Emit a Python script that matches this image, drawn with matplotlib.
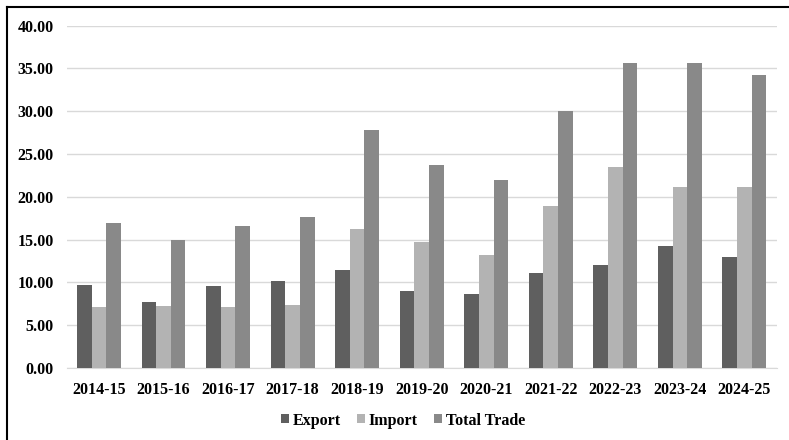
import matplotlib
matplotlib.use("Agg")
import matplotlib.pyplot as plt
from matplotlib.lines import Line2D
import numpy as np

years = ["2014-15", "2015-16", "2016-17", "2017-18", "2018-19", "2019-20",
         "2020-21", "2021-22", "2022-23", "2023-24", "2024-25"]
export = [9.70, 7.71, 9.54, 10.16, 11.50, 8.96, 8.60, 11.06, 12.00, 14.30, 12.93]
imports = [7.09, 7.24, 7.09, 7.40, 16.30, 14.76, 13.20, 18.90, 23.50, 21.20, 21.20]
total_trade = [16.90, 14.95, 16.60, 17.70, 27.80, 23.70, 21.96, 30.06, 35.60, 35.60, 34.20]
y_ticks = [0, 5, 10, 15, 20, 25, 30, 35, 40]

plt.rcParams["font.family"] = ["Liberation Serif", "DejaVu Serif"]
plt.rcParams["font.weight"] = "bold"

fig = plt.figure(figsize=(7.89, 4.40), dpi=100)
ax = fig.add_axes([66.7 / 789, 1 - 368 / 440, 710 / 789, 342.3 / 440])

x = np.arange(len(years))
w = 0.227
series = [("Export", export, "#5f5f5f"),
          ("Import", imports, "#b3b3b3"),
          ("Total Trade", total_trade, "#898989")]
for i, (name, vals, col) in enumerate(series):
    ax.bar(x + (i - 1) * w, vals, width=w, color=col, label=name, zorder=3)

ax.set_xlim(-0.5, len(years) - 0.5)
ax.set_ylim(0, 40)
ax.set_yticks(y_ticks)
ax.set_yticklabels([f"{v:.2f}" for v in y_ticks], fontsize=11.5, fontweight="bold")
ax.set_xticks(x)
ax.set_xticklabels(years, fontsize=11.5, fontweight="bold")
ax.tick_params(axis="both", length=0)
ax.tick_params(axis="x", pad=10)
ax.tick_params(axis="y", pad=9.5)
ax.grid(axis="y", color="#d9d9d9", linewidth=1, zorder=0)
for s in ["top", "right", "left"]:
    ax.spines[s].set_visible(False)
ax.spines["bottom"].set_color("#d9d9d9")

leg = fig.legend(loc="center", bbox_to_anchor=(403 / 789, 1 - 420.5 / 440),
                 ncol=3, frameon=False, handlelength=0.5,
                 handleheight=0.5, handletextpad=0.25, columnspacing=1.0,
                 prop={"weight": "bold", "size": 11.5})

# frame lines along the left and top edges
fig.add_artist(Line2D([7 / 789, 7 / 789], [0, 1 - 7 / 440], transform=fig.transFigure,
                      color="black", linewidth=1.5))
fig.add_artist(Line2D([7 / 789, 1], [1 - 7 / 440, 1 - 7 / 440], transform=fig.transFigure,
                      color="black", linewidth=1.5))

fig.savefig("out.png", dpi=100)
